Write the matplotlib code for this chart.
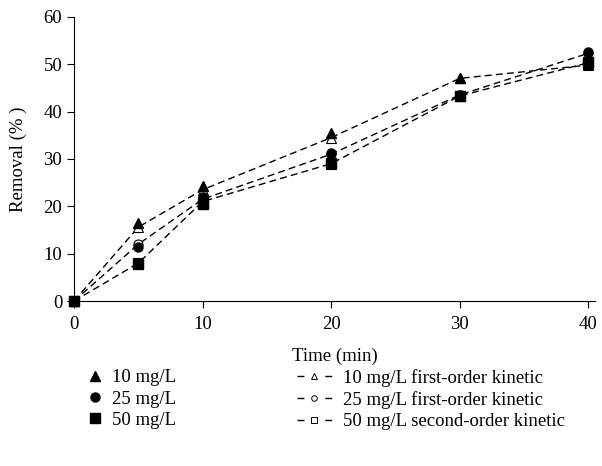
import numpy as np
import matplotlib.pyplot as plt
from matplotlib.lines import Line2D

plt.rcParams['font.family'] = ['Liberation Serif', 'DejaVu Serif']

time = [0, 5, 10, 20, 30, 40]

# experimental removal (%)
exp_10 = [0, 16.5, 24.3, 35.5, 47.0, 50.0]
exp_25 = [0, 11.5, 22.0, 31.3, 43.5, 52.5]
exp_50 = [0, 7.8, 20.5, 29.2, 43.3, 50.5]

# kinetic model fits
fit_10 = [0, 15.6, 23.5, 34.5, 47.0, 49.8]
fit_25 = [0, 12.0, 21.5, 31.0, 43.5, 52.3]
fit_50 = [0, 8.0, 21.0, 29.0, 43.3, 50.3]

exp_labels = ['10 mg/L', '25 mg/L', '50 mg/L']
fit_labels = ['10 mg/L first-order kinetic', '25 mg/L first-order kinetic',
              '50 mg/L second-order kinetic']
markers = ['^', 'o', 's']
fs = 13.5

fig = plt.figure(figsize=(6.02, 4.66), dpi=100)
ax = fig.add_axes([0.123, 0.354, 0.865, 0.61])

for y, m in zip([fit_10, fit_25, fit_50], markers):
    ax.plot(time, y, color='black', linestyle=(0, (5, 3)), linewidth=1.0,
            marker=m, markersize=6.5, markerfacecolor='white', markeredgecolor='black',
            markeredgewidth=0.8, clip_on=False)
for y, m in zip([exp_10, exp_25, exp_50], markers):
    ax.plot(time, y, linestyle='none', marker=m, markersize=6.5, color='black', clip_on=False)

ax.set_xlim(0, 40.5)
ax.set_ylim(0, 60)
ax.set_xticks([0, 10, 20, 30, 40])
ax.set_yticks(np.arange(0, 61, 10))
ax.spines['top'].set_visible(False)
ax.spines['right'].set_visible(False)
ax.tick_params(direction='out', length=5, labelsize=fs)
ax.tick_params(axis='x', pad=6)
ax.set_xlabel('Time (min)', fontsize=fs, labelpad=10)
ax.set_ylabel('Removal (% )', fontsize=fs, labelpad=12)

h1 = [Line2D([], [], linestyle='none', marker=m, markersize=6.5, color='black') for m in markers]
h2 = [Line2D([], [], color='black', linestyle=(0, (5, 15)), linewidth=1.0, marker=m,
             markersize=4, markerfacecolor='white', markeredgecolor='black', markeredgewidth=0.7)
      for m in markers]
fig.legend(h1, exp_labels, loc='upper left', bbox_to_anchor=(0.13, 0.228),
           frameon=False, fontsize=fs, handlelength=0.8, labelspacing=0.22,
           borderpad=0, handletextpad=0.5)
fig.legend(h2, fit_labels, loc='upper left', bbox_to_anchor=(0.477, 0.228),
           frameon=False, fontsize=fs, handlelength=1.9, labelspacing=0.22,
           borderpad=0, handletextpad=0.6)

plt.savefig('out.png', dpi=100)
